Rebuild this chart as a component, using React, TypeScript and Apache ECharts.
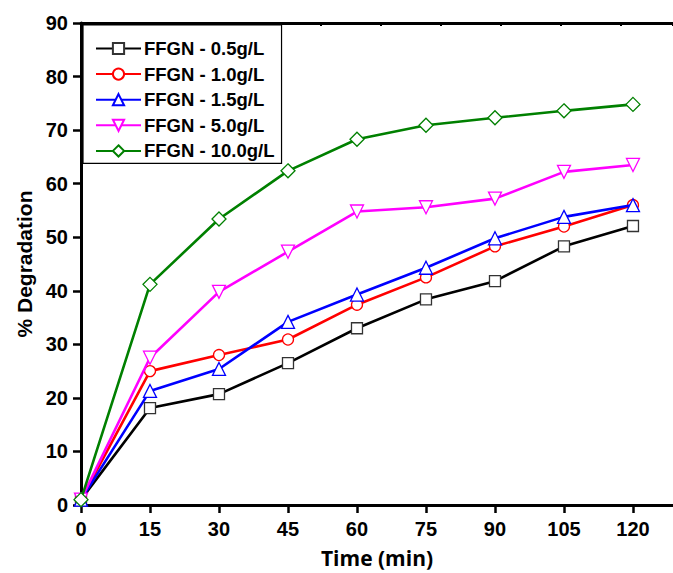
import React, { useEffect, useRef } from "react";
import * as echarts from "echarts";

const times = [0, 15, 30, 45, 60, 75, 90, 105, 120];
const seriesNames = ["FFGN - 0.5g/L", "FFGN - 1.0g/L", "FFGN - 1.5g/L", "FFGN - 5.0g/L", "FFGN - 10.0g/L"];
const d05 = [1.0, 18.1, 20.7, 26.5, 33.0, 38.4, 41.8, 48.3, 52.1];
const d10 = [1.0, 25.0, 28.0, 30.9, 37.4, 42.5, 48.3, 52.0, 56.0];
const d15 = [1.0, 21.3, 25.4, 34.2, 39.3, 44.3, 49.8, 53.8, 56.0];
const d50 = [1.0, 27.5, 39.8, 47.3, 54.8, 55.6, 57.2, 62.2, 63.5];
const d100 = [1.0, 41.2, 53.4, 62.4, 68.3, 70.9, 72.3, 73.6, 74.8];
const yTicks = [0, 10, 20, 30, 40, 50, 60, 70, 80, 90];

const colors = ["#000000", "#ff0000", "#0000ff", "#ff00ff", "#008000"];
const symbols = ["rect", "circle", "triangle", "triangle", "diamond"];
const symbolSizes = [11, 11, 13, 13, 14];
const rotates = [0, 0, 0, 180, 0];

export default function App() {
  const ref = useRef<HTMLDivElement>(null);
  useEffect(() => {
    if (!ref.current) return;
    document.body.style.margin = "0";
    document.body.style.overflow = "hidden";
    const chart = echarts.init(ref.current, null, { renderer: "svg" });
    const datas = [d05, d10, d15, d50, d100];
    const font = "'Liberation Sans', Arial, sans-serif";
    chart.setOption({
      animation: false,
      backgroundColor: "#ffffff",
      grid: { left: 81, top: 23, width: 592, height: 486, containLabel: false },
      legend: {
        orient: "vertical",
        left: 83,
        top: 25,
        itemWidth: 45,
        itemHeight: 14,
        itemGap: 6.6,
        padding: [14, 7, 3, 12],
        borderColor: "#000",
        borderWidth: 1.2,
        backgroundColor: "#fff",
        data: seriesNames,
        textStyle: { fontFamily: font, fontWeight: "bold", fontSize: 18.5, color: "#000", padding: [0, 0, 0, -2] },
      },
      xAxis: [
        {
          type: "value",
          min: 0,
          max: 128.7,
          interval: 15,
          name: "Time (min)",
          nameLocation: "middle",
          nameGap: 42,
          nameTextStyle: { fontFamily: "'Open Sans', sans-serif", fontWeight: "bold", fontSize: 21, color: "#000" },
          axisLine: { show: true, lineStyle: { color: "#000", width: 3 } },
          axisTick: { show: true, inside: false, length: 8, lineStyle: { color: "#000", width: 2.5 } },
          axisLabel: { showMaxLabel: false, margin: 14, fontFamily: font, fontWeight: "bold", fontSize: 20, color: "#000" },
          splitLine: { show: false },
        },
        {
          type: "value",
          position: "top",
          min: 0,
          max: 128.7,
          interval: 13.04,
          axisLine: { show: true, lineStyle: { color: "#000", width: 3 } },
          axisTick: { show: true, inside: true, length: 3, lineStyle: { color: "#000", width: 2 } },
          axisLabel: { show: false },
          splitLine: { show: false },
        },
      ],
      yAxis: {
        type: "value",
        min: yTicks[0],
        max: yTicks[yTicks.length - 1],
        interval: 10,
        name: "% Degradation",
        nameLocation: "middle",
        nameGap: 45,
        nameTextStyle: { fontFamily: font, fontWeight: "bold", fontSize: 21, color: "#000" },
        axisLine: { show: true, lineStyle: { color: "#000", width: 3 } },
        axisTick: { show: true, inside: false, length: 8, lineStyle: { color: "#000", width: 2.5 } },
        axisLabel: { margin: 13, fontFamily: font, fontWeight: "bold", fontSize: 20, color: "#000" },
        splitLine: { show: false },
      },
      series: seriesNames.map((name, i) => ({
        name,
        type: "line",
        xAxisIndex: 0,
        data: times.map((t, j) => [t, datas[i][j]]),
        symbol: symbols[i],
        symbolSize: symbolSizes[i],
        symbolRotate: rotates[i],
        showAllSymbol: true,
        lineStyle: { color: colors[i], width: 2.6 },
        itemStyle: { color: "#ffffff", borderColor: i === 0 ? "#333" : colors[i], borderWidth: 1.3 },
        z: 2 + i,
      })),
    });
    return () => chart.dispose();
  }, []);
  return (
    <div
      ref={ref}
      style={{ width: 673, height: 573, position: "fixed", left: 0, top: 0, overflow: "hidden" }}
    />
  );
}
